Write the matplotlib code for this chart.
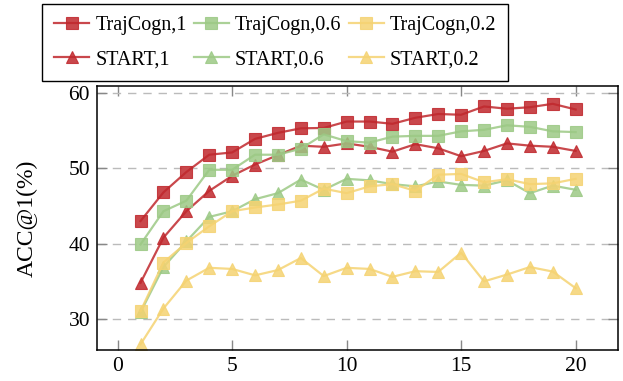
import matplotlib.pyplot as plt

epochs = list(range(1, 21))

traj_1 = [43.0, 46.8, 49.5, 51.8, 52.1, 53.9, 54.7, 55.3, 55.35, 56.2,
          56.2, 55.9, 56.7, 57.2, 57.1, 58.2, 57.9, 58.1, 58.55, 57.8]
traj_06 = [39.9, 44.3, 45.7, 49.8, 49.8, 51.8, 51.8, 52.6, 54.5, 53.6,
           53.4, 54.2, 54.3, 54.3, 54.9, 55.1, 55.7, 55.5, 54.9, 54.8]
traj_02 = [31.05, 37.5, 40.1, 42.3, 44.3, 44.8, 45.2, 45.7, 47.3, 46.7,
           47.6, 47.9, 47.0, 49.15, 49.25, 48.15, 48.55, 47.9, 48.0, 48.6]
start_1 = [34.8, 40.8, 44.3, 47.0, 49.0, 50.5, 51.75, 53.0, 52.85, 53.3,
           52.85, 52.2, 53.2, 52.65, 51.6, 52.3, 53.3, 53.0, 52.85, 52.3]
start_06 = [30.9, 36.9, 40.3, 43.55, 44.3, 45.9, 46.7, 48.5, 47.15, 48.6,
            48.4, 47.9, 47.6, 48.25, 47.8, 47.7, 48.4, 46.7, 47.7, 47.15]
start_02 = [26.65, 31.4, 35.1, 36.8, 36.65, 35.8, 36.5, 38.1, 35.7, 36.8,
            36.65, 35.6, 36.35, 36.25, 38.8, 35.0, 35.9, 36.9, 36.3, 34.1]

red = '#c0282d'
green = '#9cc985'
yellow = '#f5d372'

plt.rcParams['font.family'] = ['Liberation Serif', 'DejaVu Serif']
plt.rcParams['font.size'] = 15.5

fig = plt.figure(figsize=(6.23, 3.81), dpi=100)
ax = fig.add_axes([0.1557, 0.0814, 0.8363, 0.6926])

series = [
    (traj_1, red, 's', 'TrajCogn,1'),
    (start_1, red, '^', 'START,1'),
    (traj_06, green, 's', 'TrajCogn,0.6'),
    (start_06, green, '^', 'START,0.6'),
    (traj_02, yellow, 's', 'TrajCogn,0.2'),
    (start_02, yellow, '^', 'START,0.2'),
]
for vals, col, mk, lab in series:
    ax.plot(epochs, vals, color=col, marker=mk, markersize=8.5, linewidth=1.6,
            alpha=0.85, label=lab, markeredgewidth=0.8)

ax.set_xlim(-0.9, 21.85)
ax.set_ylim(25.9, 60.9)
ax.set_xticks([0, 5, 10, 15, 20])
ax.set_yticks([30, 40, 50, 60])
ax.set_ylabel('ACC@1(%)', fontsize=17, labelpad=22)
ax.yaxis.grid(True, color='#bbbbbb', linestyle=(0, (6, 5)), linewidth=1.0)
ax.set_axisbelow(True)
ax.tick_params(direction='in', top=True, right=True, length=7.5, width=1,
               color='#888888', pad=5)
for s in ax.spines.values():
    s.set_linewidth(1.1)

leg = fig.legend(loc='upper left', bbox_to_anchor=(0.0674, 0.9895), ncol=3,
                 fontsize=14.5, borderaxespad=0,
                 fancybox=False, edgecolor='black', framealpha=1,
                 handlelength=1.75, columnspacing=0.35, handletextpad=0.3,
                 borderpad=0.6, labelspacing=0.75)
leg.get_frame().set_linewidth(1.0)

fig.savefig('out.png', dpi=100)
